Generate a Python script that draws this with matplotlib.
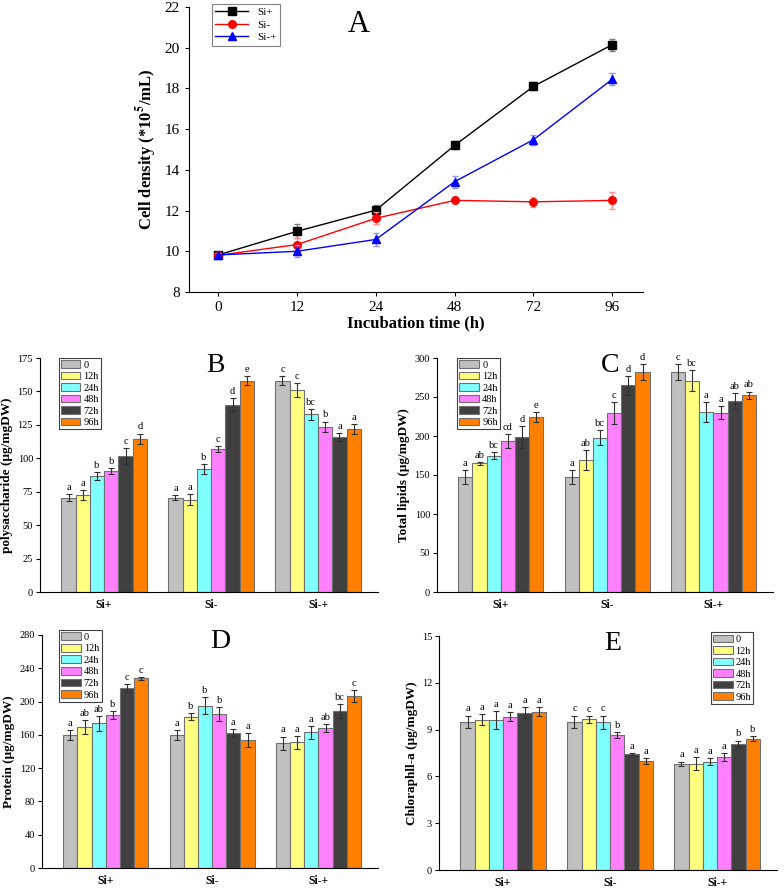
import numpy as np
import matplotlib.pyplot as plt

plt.rcParams['font.family'] = ['Liberation Serif', 'DejaVu Serif']
plt.rcParams['mathtext.fontset'] = 'stix'

# ---- panel A data ----
hours = ['0', '12', '24', '48', '72', '96']
si_plus = [9.82, 10.98, 12.02, 15.2, 18.1, 20.15]
si_plus_err = [0.1, 0.35, 0.25, 0.2, 0.2, 0.3]
si_minus = [9.8, 10.33, 11.62, 12.5, 12.43, 12.5]
si_minus_err = [0.1, 0.3, 0.3, 0.1, 0.25, 0.4]
si_mp = [9.82, 10.0, 10.58, 13.42, 15.48, 18.45]
si_mp_err = [0.1, 0.3, 0.3, 0.3, 0.25, 0.3]

# ---- bar panels ----
groups = ['Si+', 'Si-', 'Si-+']
times = ['0', '12h', '24h', '48h', '72h', '96h']
bar_colors = ['#c0c0c0', '#ffff80', '#80ffff', '#ff80ff', '#404040', '#ff8000']

poly = [[70.5, 72.5, 87, 90.5, 102, 114.5],
        [70.5, 69, 92, 107, 140, 158],
        [158, 151, 133, 123.5, 116, 122]]
poly_err = [[2.5, 4, 3, 2.5, 6, 4],
            [2, 4, 4, 2, 5, 3.5],
            [3.5, 5, 4, 4, 3, 3.5]]
poly_let = [['a', 'a', 'b', 'b', 'c', 'd'],
            ['a', 'a', 'b', 'c', 'd', 'e'],
            ['c', 'c', 'bc', 'b', 'a', 'a']]

lipid = [[147, 165, 175, 194, 199, 224.5],
         [147, 169, 198, 230, 265, 282],
         [282, 271, 231, 230, 244.5, 252]]
lipid_err = [[9, 2, 4, 9, 14, 6],
             [9, 13, 10, 14, 12, 10],
             [10, 13, 13, 8, 10, 5]]
lipid_let = [['a', 'ab', 'bc', 'cd', 'd', 'e'],
             ['a', 'ab', 'bc', 'c', 'd', 'd'],
             ['c', 'bc', 'a', 'a', 'ab', 'ab']]

prot = [[160, 169.5, 174, 184, 216, 228],
        [160, 182, 195, 185, 162.5, 154],
        [150, 151, 163, 168, 188.5, 207]]
prot_err = [[6, 8, 9, 5, 5, 2],
            [6, 4, 10, 8, 5, 8],
            [8, 8, 8, 5, 8, 7]]
prot_let = [['a', 'ab', 'ab', 'b', 'c', 'c'],
            ['a', 'b', 'b', 'b', 'a', 'a'],
            ['a', 'a', 'a', 'ab', 'bc', 'c']]

chl = [[9.5, 9.62, 9.62, 9.82, 10.08, 10.15],
       [9.5, 9.65, 9.48, 8.65, 7.42, 7.0],
       [6.8, 6.82, 6.95, 7.25, 8.1, 8.42]]
chl_err = [[0.4, 0.35, 0.55, 0.3, 0.35, 0.3],
           [0.4, 0.2, 0.42, 0.2, 0.05, 0.2],
           [0.15, 0.4, 0.2, 0.25, 0.2, 0.15]]
chl_let = [['a', 'a', 'a', 'a', 'a', 'a'],
           ['c', 'c', 'c', 'b', 'a', 'a'],
           ['a', 'a', 'a', 'a', 'b', 'b']]

W, H = 784, 889
fig = plt.figure(figsize=(W / 100, H / 100), dpi=100)


def px_axes(x0, y0, x1, y1):
    return fig.add_axes([x0 / W, 1 - y1 / H, (x1 - x0) / W, (y1 - y0) / H])


def style(ax):
    ax.spines['top'].set_visible(False)
    ax.spines['right'].set_visible(False)
    ax.tick_params(direction='out', length=3, width=0.8)


# ---- A ----
ax = px_axes(189, 7, 643, 292)
style(ax)
x = np.arange(len(hours))
for y, e, c, ec, m, lab in [(si_plus, si_plus_err, 'black', '#808080', 's', 'Si+'),
                            (si_minus, si_minus_err, 'red', '#ff9090', 'o', 'Si-'),
                            (si_mp, si_mp_err, 'blue', '#9090ff', '^', 'Si-+')]:
    ax.errorbar(x, y, yerr=e, fmt='none', ecolor=ec, elinewidth=1, capsize=2.5)
    ax.plot(x, y, color=c, marker=m, markersize=5.5, lw=1, label=lab)
ax.set_xticks(x)
ax.set_xticklabels(hours, fontsize=11)
ax.set_xlim(-0.37, 5.39)
ax.set_ylim(8, 22)
ax.set_yticks(range(8, 23, 2))
ax.tick_params(axis='y', labelsize=11)
ax.set_xlabel('Incubation time (h)', fontsize=12, fontweight='bold', labelpad=1)
ax.set_ylabel('Cell density (*10$^{\\mathbf{5}}$/mL)', fontsize=12, fontweight='bold')
ax.text(0.375, 0.94, 'A', transform=ax.transAxes, fontsize=22, ha='center', va='center')
leg = ax.legend(loc='upper left', bbox_to_anchor=(0.05, 1.01), fontsize=8, fancybox=False,
                edgecolor='#808080', framealpha=1, handlelength=3.0, borderpad=0.3,
                labelspacing=0.25, borderaxespad=0)
leg.get_frame().set_linewidth(0.8)


def bar_panel(box, vals, errs, lets, ymax, ystep, ylabel, letter, letter_pos, leg_loc, leg_anchor):
    ax = px_axes(*box)
    style(ax)
    n = len(times)
    bw = 0.8 / n
    gx = np.arange(len(groups))
    for i in range(n):
        pos = gx - 0.4 + bw * (i + 0.5)
        v = [vals[g][i] for g in range(len(groups))]
        e = [errs[g][i] for g in range(len(groups))]
        ax.bar(pos, v, width=bw, color=bar_colors[i], edgecolor='#707070', linewidth=0.8,
               label=times[i])
        ax.errorbar(pos, v, yerr=e, fmt='none', ecolor='#303030', elinewidth=0.8, capsize=2.2,
                    capthick=0.8)
        for g in range(len(groups)):
            ax.annotate(lets[g][i], (pos[g], v[g] + e[g]), xytext=(0, 1.5), textcoords='offset points',
                        ha='center', va='bottom', fontsize=7.5)
    ax.set_xlim(-0.6, 2.56)
    ax.set_ylim(0, ymax)
    ax.set_yticks(np.arange(0, ymax + 0.01, ystep))
    ax.set_xticks(gx)
    ax.set_xticklabels(groups, fontsize=8.5, fontweight='bold')
    ax.tick_params(axis='x', length=0, pad=5)
    ax.tick_params(axis='y', labelsize=7.5, pad=2)
    ax.set_ylabel(ylabel, fontsize=9.5, fontweight='bold', labelpad=3)
    ax.text(letter_pos[0], letter_pos[1], letter, transform=ax.transAxes, fontsize=20,
            ha='center', va='center')
    leg = ax.legend(loc=leg_loc, bbox_to_anchor=leg_anchor, fontsize=7.5, fancybox=False,
                    edgecolor='#404040', framealpha=1, handlelength=1.9, handleheight=0.75,
                    borderpad=0.2, labelspacing=0.2, handletextpad=0.3, borderaxespad=0)
    leg.get_frame().set_linewidth(0.8)
    return ax


bar_panel((40, 358, 378, 592), poly, poly_err, poly_let, 175, 25,
          'polysaccharide (μg/mgDW)', 'B', (0.52, 0.97), 'upper left', (0.055, 1.0))
bar_panel((437, 358, 773, 592), lipid, lipid_err, lipid_let, 300, 50,
          'Total lipids (μg/mgDW)', 'C', (0.515, 0.97), 'upper left', (0.06, 1.0))
bar_panel((42, 635, 378, 868), prot, prot_err, prot_let, 280, 40,
          'Protein (μg/mgDW)', 'D', (0.53, 0.97), 'upper left', (0.05, 1.02))
bar_panel((439, 636, 777, 870), chl, chl_err, chl_let, 15, 3,
          'Chloraphll-a (μg/mgDW)', 'E', (0.515, 0.97), 'upper right', (0.93, 1.015))

fig.savefig('out.png', dpi=100)
